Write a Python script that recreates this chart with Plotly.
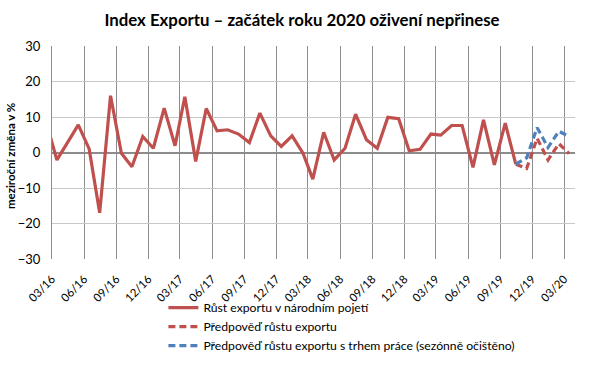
import plotly.graph_objects as go

# Monthly data (plotted mid-month)
solid_months = [
    "2016-02", "2016-03", "2016-04", "2016-05", "2016-06", "2016-07", "2016-08", "2016-09",
    "2016-10", "2016-11", "2016-12",
    "2017-01", "2017-02", "2017-03", "2017-04", "2017-05", "2017-06", "2017-07", "2017-08",
    "2017-09", "2017-10", "2017-11", "2017-12",
    "2018-01", "2018-02", "2018-03", "2018-04", "2018-05", "2018-06", "2018-07", "2018-08",
    "2018-09", "2018-10", "2018-11", "2018-12",
    "2019-01", "2019-02", "2019-03", "2019-04", "2019-05", "2019-06", "2019-07", "2019-08",
    "2019-09", "2019-10",
]
export_growth = [
    8.0, -2.1, 2.9, 7.8, 1.0, -17.0, 16.0, -0.2,
    -4.0, 4.5, 1.2,
    12.5, 1.9, 15.7, -2.5, 12.4, 6.1, 6.4, 5.2,
    2.8, 11.1, 4.7, 1.7,
    4.7, -0.2, -7.5, 5.7, -2.1, 1.2, 10.8, 3.6,
    1.2, 9.9, 9.5, 0.5,
    0.9, 5.2, 4.9, 7.6, 7.6, -4.2, 9.2, -3.5,
    8.3, -3.3,
]

forecast_months = ["2019-10", "2019-11", "2019-12", "2020-01", "2020-02", "2020-03"]
forecast = [-3.3, -4.5, 4.0, -2.1, 2.5, -0.3]
forecast_labor = [-3.3, -1.5, 7.0, 1.4, 6.0, 4.5]

tick_labels_fmt = "%m/%y"
y_title = "meziroční změna v %"

RED = "#c0504d"
BLUE = "#4f81bd"


def mid(m):
    return m + "-15"


fig = go.Figure()
fig.add_trace(go.Scatter(
    x=[mid(m) for m in solid_months], y=export_growth, mode="lines",
    name="Růst exportu v národním pojetí",
    line=dict(color=RED, width=3.2),
))
fig.add_trace(go.Scatter(
    x=[mid(m) for m in forecast_months], y=forecast, mode="lines",
    name="Předpověď růstu exportu",
    line=dict(color=RED, width=3.2, dash="7px,4px"),
))
fig.add_trace(go.Scatter(
    x=[mid(m) for m in forecast_months], y=forecast_labor, mode="lines",
    name="Předpověď růstu exportu s trhem práce (sezónně očištěno)",
    line=dict(color=BLUE, width=3.2, dash="7px,4px"),
))

fig.update_layout(
    width=604, height=367,
    margin=dict(l=52, r=29, t=46, b=108, autoexpand=False),
    paper_bgcolor="white", plot_bgcolor="white",
    font=dict(family="Lato, Carlito, Calibri, sans-serif", size=12, color="#000000"),
    title=dict(
        text="<b>Index Exportu – začátek roku 2020 oživení nepřinese</b>",
        x=0.5, xanchor="center", y=0.945, yanchor="middle",
        font=dict(size=16.8, color="#000000"),
    ),
    showlegend=True,
    legend=dict(
        x=0.213, y=-0.16, xanchor="left", yanchor="top",
        font=dict(size=12.2, color="#000000"),
        bgcolor="rgba(0,0,0,0)", tracegroupgap=0, itemwidth=30,
    ),
    xaxis=dict(
        type="date", automargin=False,
        range=["2016-03-01", "2020-04-01"],
        tick0="2016-03-01", dtick="M3", tickformat=tick_labels_fmt,
        tickangle=-45, showgrid=True, gridcolor="#8c8c8c", gridwidth=1,
        showline=False, zeroline=False,
        ticks="outside", ticklen=8, tickcolor="rgba(0,0,0,0)",
        tickfont=dict(size=11.5, color="#000000"),
    ),
    yaxis=dict(
        automargin=False,
        range=[-30, 30], dtick=10, tick0=0,
        showgrid=True, gridcolor="#c8c8c8", gridwidth=1,
        zeroline=True, zerolinecolor="#8c8c8c", zerolinewidth=2,
        showline=True, linecolor="#8c8c8c", linewidth=1,
        ticks="outside", ticklen=8, tickcolor="rgba(0,0,0,0)",
        tickfont=dict(size=13, color="#000000"),
    ),
    annotations=[dict(
        text="<b>" + y_title + "</b>", textangle=-90,
        xref="paper", yref="paper", x=-0.078, y=0.484,
        xanchor="center", yanchor="middle", showarrow=False,
        font=dict(size=11.5, color="#000000"),
    )],
)

fig.write_html("out.html", config={"displayModeBar": False},
               post_script="document.body.style.margin='0';")
